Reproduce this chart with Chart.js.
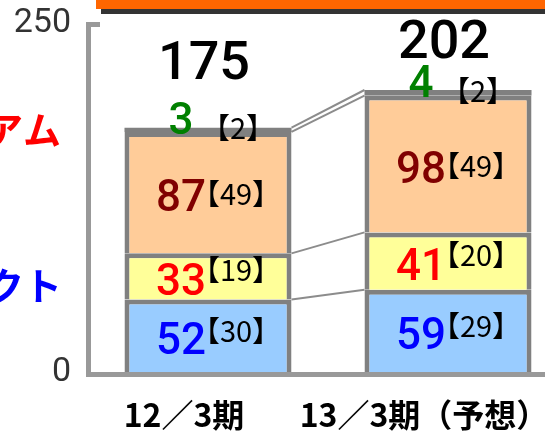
<!DOCTYPE html>
<html lang="ja">
<head>
<meta charset="UTF-8">
<title>chart</title>
<script src="https://cdn.jsdelivr.net/npm/chart.js"></script>
<style>
  html, body { margin: 0; padding: 0; overflow: hidden; background: #fff; }
  #wrap { width: 600px; height: 433px; }
</style>
</head>
<body>
<div id="wrap"><canvas id="myChart"></canvas></div>
<script>
// data
const categories = ['12／3期', '13／3期（予想）'];
const blueValues = [52, 59];
const yellowValues = [33, 41];
const orangeValues = [87, 98];
const grayValues = [3, 4];
const blueNotes = [30, 29];
const yellowNotes = [19, 20];
const orangeNotes = [49, 49];
const grayNotes = [2, 2];
const yTicks = [0, 250];
const sideLabels = ['アム', 'クト'];

const notes = [blueNotes, yellowNotes, orangeNotes, grayNotes];
const valueColors = ['#0000FF', '#FF0000', '#800000', '#008000'];

function drawValue(c, text, cx, cy, size, color) {
    c.font = '500 ' + size + 'px Roboto';
    c.fillStyle = color;
    c.textAlign = 'center';
    c.textBaseline = 'alphabetic';
    c.fillText(text, cx, cy + size * 0.355);
}

function drawNote(c, n, cx, cy) {
    const size = 29;
    c.font = size + 'px "Noto Sans CJK JP"';
    c.fillStyle = '#000';
    c.textBaseline = 'alphabetic';
    const s = String(n);
    const w = c.measureText(s).width;
    const base = cy + size * 0.367;
    c.textAlign = 'center';
    c.fillText(s, cx, base);
    c.textAlign = 'right';
    c.fillText('【', cx - w / 2, base);
    c.textAlign = 'left';
    c.fillText('】', cx + w / 2, base);
}

const overlay = {
    id: 'overlay',
    beforeDraw(chart) {
        const c = chart.ctx;
        c.save();
        c.fillStyle = '#333333';
        c.fillRect(101, 9, chart.width, 5);
        c.fillStyle = '#FF6600';
        c.fillRect(96, 0, chart.width, 9);

        c.font = 'bold 38px "Noto Sans CJK JP"';
        c.textAlign = 'right';
        c.textBaseline = 'middle';
        c.fillStyle = '#FF0000';
        c.fillText(sideLabels[0], 61, 130);
        c.fillStyle = '#0000FF';
        c.fillText(sideLabels[1], 62, 286);
        c.restore();
    },
    beforeDatasetsDraw(chart) {
        // lines joining the two bars
        const c = chart.ctx;
        c.save();
        c.strokeStyle = '#8c8c8c';
        c.lineWidth = 2;
        chart.data.datasets.forEach((ds, i) => {
            const pts = chart.getDatasetMeta(i).data;
            const a = pts[0], b = pts[1];
            c.beginPath();
            c.moveTo(a.x + a.width / 2, a.y);
            c.lineTo(b.x - b.width / 2, b.y);
            c.stroke();
        });
        c.restore();
    },
    afterDatasetsDraw(chart) {
        const c = chart.ctx;
        const area = chart.chartArea;
        c.save();
        // axis lines
        c.fillStyle = '#999999';
        c.fillRect(area.left - 2, area.top - 1, 5, area.bottom - area.top + 6);
        c.fillRect(area.left - 2, area.bottom, chart.width, 5);
        c.fillRect(area.left - 2, area.top - 1, 14, 5);

        const noteDy = [-4, -6, 2];
        chart.data.datasets.forEach((ds, i) => {
            const pts = chart.getDatasetMeta(i).data;
            pts.forEach((el, j) => {
                if (i < 3) {
                    const mid = (el.y + el.base) / 2;
                    drawValue(c, String(ds.data[j]), el.x - 27, mid + 3, 44, valueColors[i]);
                    drawNote(c, notes[i][j], el.x + 28, mid + noteDy[i]);
                } else {
                    drawValue(c, String(ds.data[j]), el.x - 27, el.y - 9, 44, valueColors[i]);
                    drawNote(c, notes[i][j], el.x + 30, el.y + 1);
                }
            });
        });

        // totals
        const topPts = chart.getDatasetMeta(3).data;
        const totalDy = [-68, -51];
        topPts.forEach((el, j) => {
            const total = blueValues[j] + yellowValues[j] + orangeValues[j] + grayValues[j];
            drawValue(c, String(total), el.x - 4, el.y + totalDy[j], 54, '#000');
        });
        c.restore();
    }
};

const segment = {
    borderColor: '#808080',
    borderWidth: { top: 5, left: 5, right: 5, bottom: 0 },
    borderSkipped: false,
    barPercentage: 0.696,
    categoryPercentage: 1
};

const data = {
    labels: categories,
    datasets: [
        Object.assign({ label: 'blue', data: blueValues, backgroundColor: '#99CCFF' }, segment),
        Object.assign({ label: 'yellow', data: yellowValues, backgroundColor: '#FFFF99' }, segment),
        Object.assign({ label: 'orange', data: orangeValues, backgroundColor: '#FFCC99' }, segment),
        Object.assign({ label: 'gray', data: grayValues, backgroundColor: '#808080' }, segment, { borderWidth: 0 })
    ]
};

const config = {
    type: 'bar',
    data,
    plugins: [overlay],
    options: {
        responsive: true,
        maintainAspectRatio: false,
        animation: false,
        layout: { padding: { top: 23, right: 32, bottom: 0, left: 0 } },
        scales: {
            x: {
                stacked: true,
                grid: { display: false, drawTicks: false },
                border: { display: false },
                afterFit: function (scale) {
                    scale.height = 61;
                    scale.paddingLeft = 0;
                    scale.paddingRight = 0;
                },
                ticks: {
                    padding: 24,
                    labelOffset: -24,
                    maxRotation: 0,
                    minRotation: 0,
                    autoSkip: false,
                    color: '#000',
                    font: { family: '"Noto Sans CJK JP"', size: 32, weight: 'bold' }
                }
            },
            y: {
                stacked: true,
                min: yTicks[0],
                max: yTicks[1],
                grid: { display: false, drawTicks: false },
                border: { display: false },
                afterFit: function (scale) {
                    scale.width = 88;
                    scale.paddingTop = 0;
                    scale.paddingBottom = 0;
                },
                afterBuildTicks: function (scale) {
                    scale.ticks = yTicks.map(v => ({ value: v }));
                },
                ticks: {
                    padding: 17,
                    color: '#333333',
                    font: { family: 'Roboto', size: 34 }
                }
            }
        },
        plugins: {
            legend: { display: false },
            tooltip: { enabled: false }
        }
    }
};

const myChart = new Chart(document.getElementById('myChart'), config);
</script>
</body>
</html>
